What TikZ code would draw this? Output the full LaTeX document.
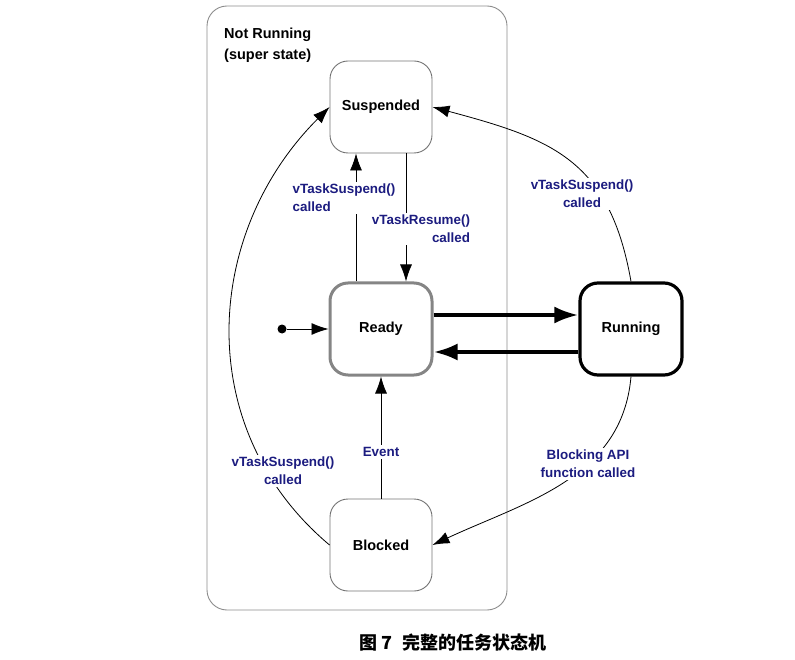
\documentclass[tikz,border=0pt]{standalone}
\usepackage{fontspec}
\setmainfont{Liberation Sans}
\newfontfamily\cjk{Noto Sans CJK SC}
\usetikzlibrary{arrows.meta}
\definecolor{labelblue}{RGB}{28,28,128}
\begin{document}
\begin{tikzpicture}[x=1pt,y=1pt]

		\tikzstyle{state} = [rectangle, draw=black!55, line width=0.9pt, align=center, minimum width=102pt, minimum height=92pt, rounded corners=18pt, font=\fontsize{14.5}{17}\selectfont\bfseries]
		
		\tikzstyle{links} = [-{Latex[length=17pt,width=12pt]}, line width=0.8pt]
		
		\tikzstyle{biglinks} = [-{Latex[length=24pt,width=17pt]}, line width=4pt]
		
		\tikzstyle{labels} = [fill=white, inner sep=2pt, text=labelblue, font=\fontsize{13.4}{18}\selectfont\bfseries]
		
		\useasboundingbox (0,0) rectangle (795,-660);
		
		\draw[rounded corners=20, black!45, line width=0.9pt] (207,-6) rectangle (507,-610);
		\node[align=left, anchor=north west, inner sep=0, font=\fontsize{14.5}{21}\selectfont\bfseries] at (224,-28) (superstate) {Not Running\\(super state)};
		
		\node[state] at (381,-107) (suspended) {Suspended};
		\node[state, draw=black!48, line width=3pt] at (381,-329) (ready) {Ready};
		\node[state, draw=black, line width=3.2pt] at (631,-329) (running) {Running};
		\node[state] at (381,-545) (blocked) {Blocked};
		
		\node[circle, fill, inner sep=0, minimum size=9pt] at (282,-329) (init) {};
		
		\draw[links] (init) -- (ready);
		
		\draw[biglinks] ([yshift=14pt]ready.east) -- ([yshift=14pt]running.west);
		\draw[biglinks] ([yshift=-23pt]running.west) -- ([yshift=-23pt]ready.east);
		
		\draw[links] ([xshift=-25pt]ready.north) -- ([xshift=-25pt]suspended.south);
		\draw[links] ([xshift=25pt]suspended.south) -- ([xshift=25pt]ready.north);
		\draw[links] (blocked) -- (ready);
		
		\draw[links] (running.north) to[out=100, in=-15, looseness=1.2] (suspended.east);
		\draw[links] (running.south) to[out=-95, in=25] (blocked.east);
		\draw[links] (blocked.west) to[out=140, in=-135, looseness=1.05] (suspended.west);
		
		\node[labels, align=left] at (344,-198) (suspendlabel1) {vTaskSuspend()\\called};
		\node[labels, align=right] at (421,-229) (resumelabel) {vTaskResume()\\called};
		\node[labels] at (381,-452) (eventlabel) {Event};
		\node[labels, align=center] at (582,-194) (suspendlabel2) {vTaskSuspend()\\called};
		\node[labels, align=center] at (283,-471) (suspendlabel3) {vTaskSuspend()\\called};
		\node[labels, align=center] at (588,-464) (blockinglabel) {Blocking API\\function called};
		
		\node[font=\cjk\bfseries\fontsize{18}{21}\selectfont] at (453,-643) (caption) {图 7\hspace{0.6em}完整的任务状态机};
	\end{tikzpicture}
\end{document}
